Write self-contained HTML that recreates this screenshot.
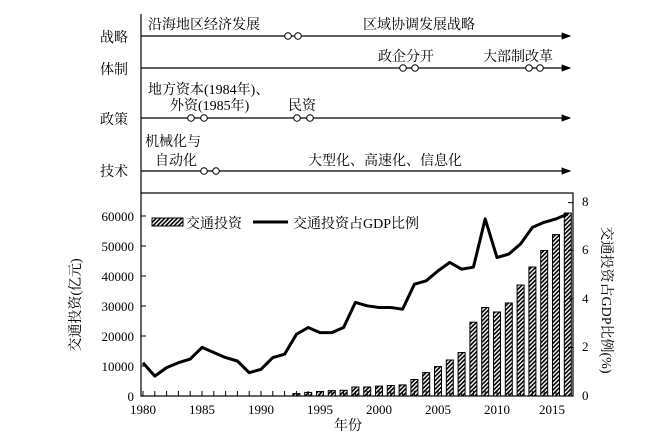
<!DOCTYPE html>
<html><head><meta charset="utf-8">
<style>
html,body{margin:0;padding:0;background:#fff;}
svg{display:block;font-family:"Liberation Serif","Noto Serif CJK SC",serif;}
</style></head><body>
<svg width="650" height="438" viewBox="0 0 650 438" xmlns="http://www.w3.org/2000/svg">
<defs>
<pattern id="h" width="3" height="3" patternUnits="userSpaceOnUse" patternTransform="rotate(45)">
<rect width="3" height="3" fill="#fff"/><rect width="1.6" height="3" fill="#000"/>
</pattern>
<marker id="a" markerWidth="8" markerHeight="6" refX="7" refY="3" orient="auto"><path d="M0,0 L8,3 L0,6 z" fill="#000"/></marker>
</defs>
<g font-size="14" fill="#000">
<line x1="141" y1="14" x2="141" y2="193" stroke="#000" stroke-width="1.2"/>
<text x="100" y="42">战略</text>
<text x="100" y="74">体制</text>
<text x="100" y="124">政策</text>
<text x="100" y="176">技术</text>
<g stroke="#000" stroke-width="1.2" marker-end="url(#a)">
<line x1="141" y1="36" x2="570" y2="36"/>
<line x1="141" y1="68" x2="570" y2="68"/>
<line x1="141" y1="118" x2="570" y2="118"/>
<line x1="141" y1="171" x2="570" y2="171"/>
</g>
<g fill="#fff" stroke="#000" stroke-width="1">
<circle cx="288" cy="36" r="3.3"/><circle cx="298" cy="36" r="3.3"/>
<circle cx="403" cy="68" r="3.3"/><circle cx="415" cy="68" r="3.3"/>
<circle cx="529" cy="68" r="3.3"/><circle cx="540" cy="68" r="3.3"/>
<circle cx="191" cy="118" r="3.3"/><circle cx="204" cy="118" r="3.3"/>
<circle cx="297" cy="118" r="3.3"/><circle cx="310" cy="118" r="3.3"/>
<circle cx="204" cy="171" r="3.3"/><circle cx="216" cy="171" r="3.3"/>
</g>
<text x="148" y="29">沿海地区经济发展</text>
<text x="363" y="29">区域协调发展战略</text>
<text x="378" y="61">政企分开</text>
<text x="483" y="61">大部制改革</text>
<text x="148" y="94">地方资本(1984年)、</text>
<text x="170" y="110">外资(1985年)</text>
<text x="288" y="110">民资</text>
<text x="145" y="146">机械化与</text>
<text x="155" y="165">自动化</text>
<text x="308" y="165">大型化、高速化、信息化</text>

<rect x="141" y="193" width="432" height="203" fill="none" stroke="#000" stroke-width="1.2"/>
<g fill="url(#h)" stroke="#000" stroke-width="1">
<rect x="292.9" y="393.6" width="7" height="2.4"/>
<rect x="304.7" y="392.4" width="7" height="3.6"/>
<rect x="316.5" y="391.5" width="7" height="4.5"/>
<rect x="328.3" y="390.6" width="7" height="5.4"/>
<rect x="340.1" y="390.3" width="7" height="5.7"/>
<rect x="351.9" y="387" width="7" height="9"/>
<rect x="363.7" y="387" width="7" height="9"/>
<rect x="375.5" y="386.1" width="7" height="9.9"/>
<rect x="387.3" y="385.5" width="7" height="10.5"/>
<rect x="399.1" y="384.9" width="7" height="11.1"/>
<rect x="410.9" y="379.5" width="7" height="16.5"/>
<rect x="422.7" y="372.6" width="7" height="23.4"/>
<rect x="434.5" y="366.6" width="7" height="29.4"/>
<rect x="446.3" y="360" width="7" height="36"/>
<rect x="458.1" y="352.5" width="7" height="43.5"/>
<rect x="469.9" y="322.2" width="7" height="73.8"/>
<rect x="481.7" y="307.5" width="7" height="88.5"/>
<rect x="493.5" y="312" width="7" height="84"/>
<rect x="505.3" y="303" width="7" height="93"/>
<rect x="517.1" y="285" width="7" height="111"/>
<rect x="528.9" y="267" width="7" height="129"/>
<rect x="540.7" y="250.5" width="7" height="145.5"/>
<rect x="552.5" y="234.6" width="7" height="161.4"/>
<rect x="564.3" y="213" width="7" height="183"/>
</g>
<polyline fill="none" stroke="#000" stroke-width="3" stroke-linejoin="round" points="143,362.7 154.8,376.1 166.6,367.6 178.4,362.7 190.2,359.1 202,347.4 213.8,352.5 225.6,357.6 237.4,361 249.2,372.7 261,369.3 272.8,357.6 284.6,354.2 296.4,334.3 308.2,327.5 320,332.6 331.8,332.6 343.6,327.5 355.4,302.4 367.2,305.8 379,307.5 390.8,307.5 402.6,309.2 414.4,284.2 426.2,280.8 438,270.9 449.8,262.4 461.6,269.2 473.4,267.2 485.2,218.9 497,257.5 508.8,254.1 520.6,243.9 532.4,227.4 544.2,222.3 556,218.9 567.8,214"/>
<path stroke="#000" stroke-width="1" fill="none" d="M143 396v-5M154.8 396v-5M166.6 396v-5M178.4 396v-5M190.2 396v-5M202 396v-5M213.8 396v-5M225.6 396v-5M237.4 396v-5M249.2 396v-5M261 396v-5M272.8 396v-5M284.6 396v-5M296.4 396v-5M308.2 396v-5M320 396v-5M331.8 396v-5M343.6 396v-5M355.4 396v-5M367.2 396v-5M379 396v-5M390.8 396v-5M402.6 396v-5M414.4 396v-5M426.2 396v-5M438 396v-5M449.8 396v-5M461.6 396v-5M473.4 396v-5M485.2 396v-5M497 396v-5M508.8 396v-5M520.6 396v-5M532.4 396v-5M544.2 396v-5M556 396v-5M141 216h5M141 246h5M141 276h5M141 306h5M141 336h5M141 366h5M573 202.6h-5M573 250.4h-5M573 298.8h-5M573 347.4h-5"/>

<g text-anchor="end" font-size="13">
<text x="134" y="221">60000</text>
<text x="134" y="251">50000</text>
<text x="134" y="281">40000</text>
<text x="134" y="311">30000</text>
<text x="134" y="341">20000</text>
<text x="134" y="371">10000</text>
<text x="134" y="401">0</text>
</g>
<g font-size="13">
<text x="582" y="206">8</text>
<text x="582" y="254">6</text>
<text x="582" y="303">4</text>
<text x="582" y="351">2</text>
<text x="582" y="400">0</text>
</g>
<g text-anchor="middle" font-size="13">
<text x="143" y="414">1980</text>
<text x="202" y="414">1985</text>
<text x="261" y="414">1990</text>
<text x="320" y="414">1995</text>
<text x="379" y="414">2000</text>
<text x="438" y="414">2005</text>
<text x="497" y="414">2010</text>
<text x="552" y="414">2015</text>
</g>
<text x="348" y="430" text-anchor="middle">年份</text>
<text transform="translate(80,305) rotate(-90)" text-anchor="middle">交通投资(亿元)</text>
<text transform="translate(602,300) rotate(90)" text-anchor="middle">交通投资占GDP比例(%)</text>

<rect x="152" y="218" width="31" height="8" fill="url(#h)" stroke="#000" stroke-width="1"/>
<text x="186" y="228">交通投资</text>
<line x1="253" y1="222" x2="288" y2="222" stroke="#000" stroke-width="3"/>
<text x="293" y="228">交通投资占GDP比例</text>
</g>
</svg>
</body></html>
